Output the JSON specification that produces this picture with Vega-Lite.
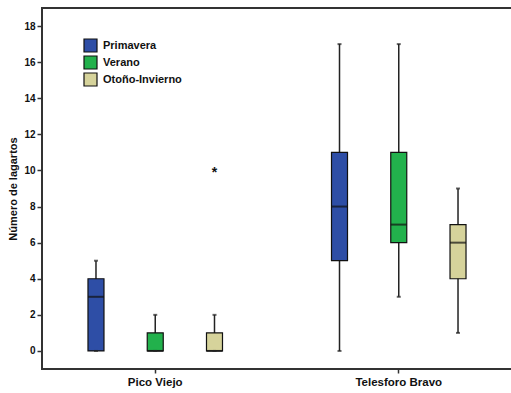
{
  "$schema": "https://vega.github.io/schema/vega-lite/v6.json",
  "width": 470,
  "height": 361,
  "autosize": "none",
  "padding": {"left": 42, "top": 8, "right": 0, "bottom": 24},
  "background": "white",
  "config": {
    "view": {"stroke": "#333333", "strokeWidth": 2},
    "font": "Liberation Sans",
    "axis": {"grid": false, "domain": false, "tickColor": "#333333", "tickWidth": 1.5, "labelColor": "#111111", "titleColor": "#111111", "labelFontWeight": "bold", "titleFontWeight": "bold"}
  },
  "data": {
    "values": [
      {"site": "Pico Viejo", "season": "Primavera", "lower": 0, "q1": 0, "median": 3, "q3": 4, "upper": 5, "outlier": null},
      {"site": "Pico Viejo", "season": "Verano", "lower": 0, "q1": 0, "median": 0, "q3": 1, "upper": 2, "outlier": null},
      {"site": "Pico Viejo", "season": "Otoño-Invierno", "lower": 0, "q1": 0, "median": 0, "q3": 1, "upper": 2, "outlier": 10},
      {"site": "Telesforo Bravo", "season": "Primavera", "lower": 0, "q1": 5, "median": 8, "q3": 11, "upper": 17, "outlier": null},
      {"site": "Telesforo Bravo", "season": "Verano", "lower": 3, "q1": 6, "median": 7, "q3": 11, "upper": 17, "outlier": null},
      {"site": "Telesforo Bravo", "season": "Otoño-Invierno", "lower": 1, "q1": 4, "median": 6, "q3": 7, "upper": 9, "outlier": null}
    ]
  },
  "encoding": {
    "x": {
      "field": "site", "type": "nominal", "title": null,
      "scale": {"paddingInner": 0.27, "paddingOuter": 0.1},
      "axis": {"labelAngle": 0, "labelFontSize": 11.5, "tickSize": 4, "labelPadding": 3}
    },
    "xOffset": {
      "field": "season", "type": "nominal",
      "sort": ["Primavera", "Verano", "Otoño-Invierno"],
      "scale": {"paddingInner": 0, "paddingOuter": 0}
    }
  },
  "layer": [
    {
      "mark": {"type": "rule", "color": "#222222", "strokeWidth": 1.5},
      "encoding": {
        "y": {"field": "lower", "type": "quantitative", "title": "Número de lagartos",
          "scale": {"domain": [-1, 19], "nice": false, "zero": false},
          "axis": {"values": [0, 2, 4, 6, 8, 10, 12, 14, 16, 18], "labelFontSize": 10, "tickSize": 5, "labelPadding": 2, "titleFontSize": 11, "titlePadding": 5}},
        "y2": {"field": "upper"}
      }
    },
    {
      "mark": {"type": "bar", "size": 16, "stroke": "#111111", "strokeWidth": 1.2},
      "encoding": {
        "y": {"field": "q1", "type": "quantitative"},
        "y2": {"field": "q3"},
        "color": {
          "field": "season", "type": "nominal", "title": null,
          "sort": ["Primavera", "Verano", "Otoño-Invierno"],
          "scale": {"domain": ["Primavera", "Verano", "Otoño-Invierno"], "range": ["#2e4ea6", "#22b14c", "#d6d39b"]},
          "legend": {"orient": "none", "legendX": 41, "legendY": 30, "symbolType": "square", "symbolSize": 169, "symbolStrokeColor": "#111111", "symbolStrokeWidth": 1.2, "symbolOpacity": 1, "labelFontSize": 11, "labelFontWeight": "bold", "labelColor": "#111111", "rowPadding": -2, "labelOffset": 5}
        }
      }
    },
    {
      "mark": {"type": "tick", "color": "#111111", "size": 16, "thickness": 2},
      "encoding": {"y": {"field": "median", "type": "quantitative"}}
    },
    {
      "mark": {"type": "tick", "color": "#222222", "size": 4, "thickness": 2},
      "encoding": {"y": {"field": "upper", "type": "quantitative"}}
    },
    {
      "mark": {"type": "tick", "color": "#222222", "size": 4, "thickness": 2},
      "encoding": {"y": {"field": "lower", "type": "quantitative"}}
    },
    {
      "transform": [{"filter": "datum.outlier != null"}],
      "mark": {"type": "text", "text": "*", "fontSize": 14, "fontWeight": "bold", "baseline": "middle", "dy": 3, "color": "#111111"},
      "encoding": {"y": {"field": "outlier", "type": "quantitative"}}
    }
  ]
}
